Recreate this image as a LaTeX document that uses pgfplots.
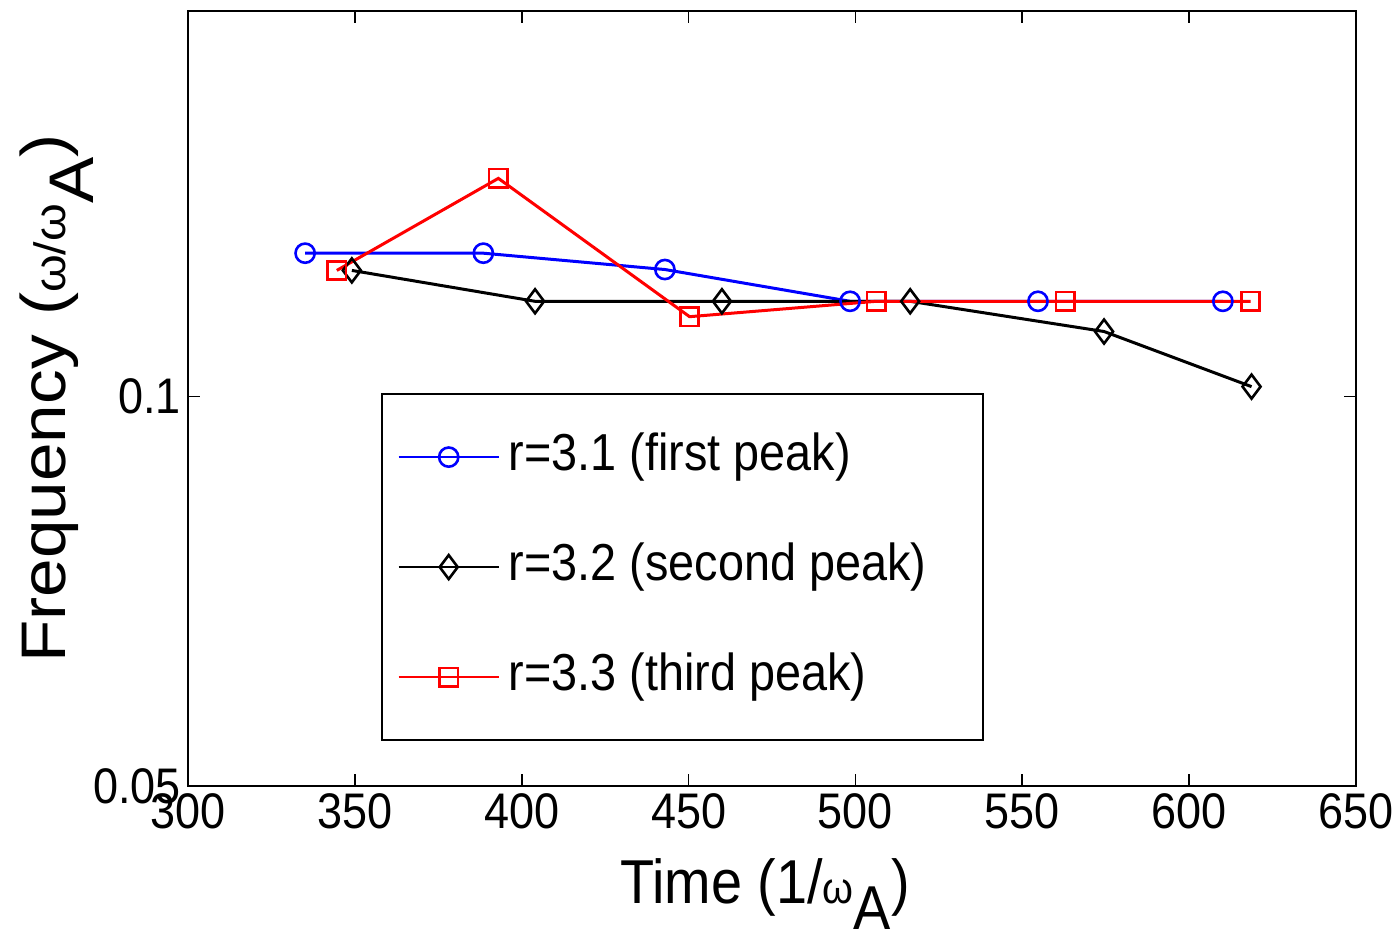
\documentclass[border=0pt]{standalone}
\usepackage{fontspec}
\setmainfont{Liberation Sans}[FakeStretch=0.9]
\newfontfamily\ylabfont{Liberation Sans}[FakeStretch=1.1]
\usepackage{pgfplots}
\pgfplotsset{compat=1.18}
\definecolor{mblue}{RGB}{0,0,255}
\definecolor{mred}{RGB}{255,0,0}
\begin{document}
\begin{tikzpicture}
\begin{axis}[
  name=ax,
  scale only axis,
  width=584pt, height=387.5pt,
  xmin=300, xmax=650,
  ymode=log, ymin=0.05, ymax=0.1987,
  xtick={300,350,400,450,500,550,600,650},
  xticklabels={300,350,400,450,500,550,600,650},
  ytick={0.05,0.1}, yticklabels={0.05,0.1},
  minor ytick={},
  tick align=inside, major tick length=6pt,
  tick style={black, line width=0.8pt},
  axis line style={line width=1pt},
  ticklabel style={font=\fontsize{25}{30}\selectfont},
  xlabel={Time (1/{\fontsize{22}{26}\selectfont ω}\raisebox{-0.43em}{A})},
  ylabel={\ylabfont Frequency ({\fontsize{22}{26}\selectfont ω/ω}\raisebox{-0.45em}{A})},
  xlabel style={font=\fontsize{31}{36}\selectfont, at={(axis description cs:0.494,0)}, anchor=base, yshift=-58.5pt},
  ylabel style={font=\fontsize{31.5}{36}\selectfont, at={(axis description cs:-0.105,0.5)}, anchor=base},
  legend style={at={(axis description cs:0.165,0.507)}, anchor=north west,
    draw=black, line width=1pt, inner xsep=8pt, inner ysep=20pt,
    row sep=32pt, column sep=4.5pt,
    font=\fontsize{26}{30}\selectfont,
    nodes={inner sep=0pt, text height=18pt, text depth=5pt}},
  legend cell align=left,
  legend image code/.code={\draw[mark repeat=2, mark phase=2, line width=1pt] plot coordinates {(0pt,0pt) (25pt,0pt) (50pt,0pt)};},
]
\addplot[mblue, line width=1.5pt, mark=o, mark size=4.8pt, mark options={solid, line width=1.3pt}]
  coordinates {(335.1,0.1291) (388.5,0.1291) (442.9,0.1254) (498.4,0.1185) (554.7,0.1185) (610.1,0.1185)};
\addlegendentry{r=3.1 (first peak)}
\addplot[black, line width=1.5pt, mark=diamond, mark size=6pt, mark options={solid, line width=1.3pt}]
  coordinates {(349.1,0.1252) (404.0,0.1185) (460.0,0.1185) (516.4,0.1185) (574.5,0.1123) (618.7,0.1018)};
\addlegendentry{r=3.2 (second peak)\rule{20.5pt}{0pt}}
\addplot[mred, line width=1.5pt, mark=square, mark size=4.6pt, mark options={solid, line width=1.3pt}]
  coordinates {(344.6,0.1252) (393.0,0.1475) (450.3,0.1153) (506.2,0.1185) (562.8,0.1185) (618.4,0.1185)};
\addlegendentry{r=3.3 (third peak)}
\end{axis}
\pgfresetboundingbox
\path (ax.south west) ++(-94pt,-72.5pt) (ax.north east) ++(21.5pt,5.5pt);
\end{tikzpicture}
\end{document}
